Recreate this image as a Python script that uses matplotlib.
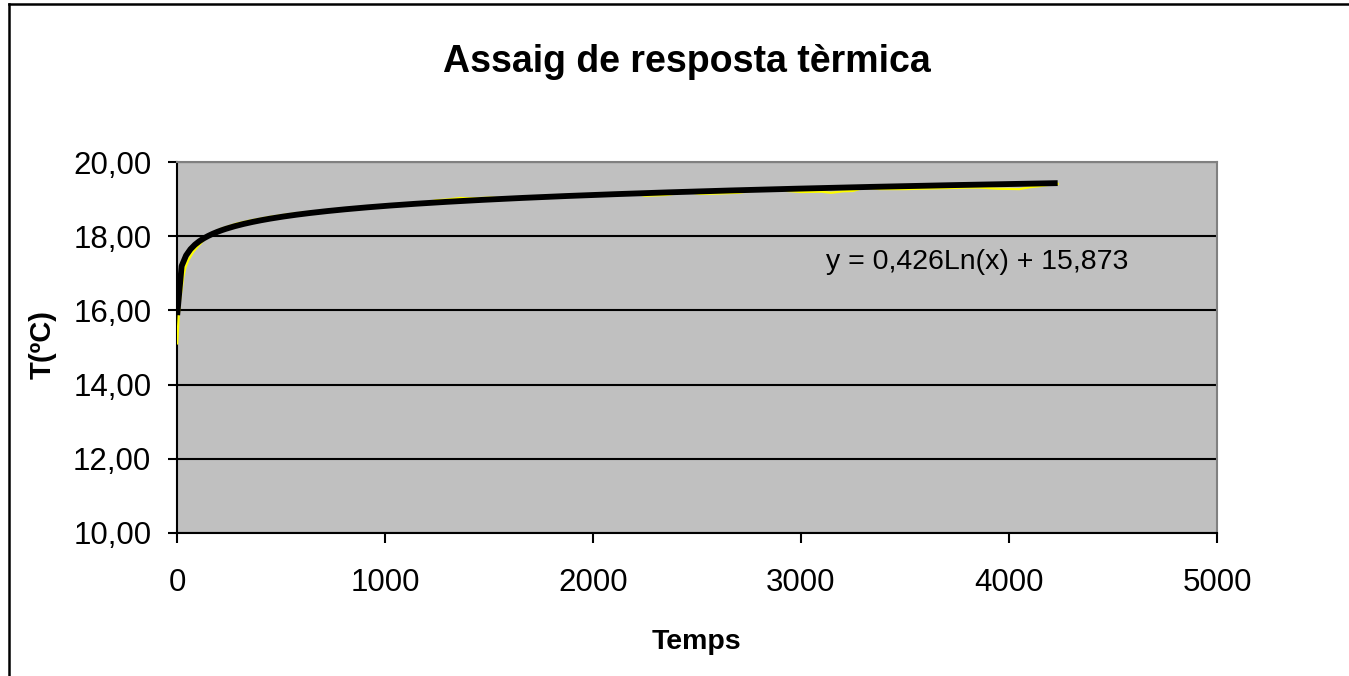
import numpy as np
import matplotlib
matplotlib.use("Agg")
import matplotlib.pyplot as plt
from matplotlib import font_manager
from matplotlib.lines import Line2D
from matplotlib.ticker import FuncFormatter

# mesures (temps, temperatura)
temps = [1, 8, 15, 22, 30, 40, 54, 78, 100, 126, 150, 207, 287, 350, 447, 520,
         607, 700, 768, 860, 960, 1060, 1168, 1250, 1300, 1360, 1420, 1500,
         1600, 1800, 2000, 2200, 2250, 2350, 2450, 2514, 2600, 2700, 2800,
         2900, 2933, 3000, 3100, 3145, 3200, 3250, 3300, 3380, 3500, 3650,
         3800, 3860, 3950, 4050, 4100, 4150, 4187, 4234]
temperatura = [15.11, 15.85, 16.30, 16.55, 16.90, 17.15, 17.35, 17.58, 17.72,
               17.88, 17.98, 18.19, 18.34, 18.42, 18.52, 18.58, 18.64, 18.69,
               18.72, 18.76, 18.81, 18.84, 18.88, 18.97, 18.99, 19.03, 19.02,
               19.04, 19.02, 19.07, 19.11, 19.15, 19.09, 19.11, 19.19, 19.14,
               19.15, 19.17, 19.25, 19.27, 19.22, 19.19, 19.20, 19.17, 19.21,
               19.22, 19.30, 19.27, 19.27, 19.29, 19.31, 19.31, 19.28, 19.27,
               19.32, 19.35, 19.38, 19.41]

# linia de tendència logarítmica (coeficients del gràfic)
tend_a = 0.426
tend_b = 15.873

y_ticks = [10, 12, 14, 16, 18, 20]
x_ticks = [0, 1000, 2000, 3000, 4000, 5000]

# font estreta si hi és, si no la normal amb mides de compromís
noms = {f.name for f in font_manager.fontManager.ttflist}
if 'Liberation Sans Narrow' in noms:
    plt.rcParams['font.family'] = ['Liberation Sans Narrow', 'DejaVu Sans']
    mides = dict(tick=25, eq=23, title=30, xlab=23, ylab=23)
else:
    plt.rcParams['font.family'] = ['Liberation Sans', 'DejaVu Sans']
    mides = dict(tick=22.5, eq=20.5, title=27, xlab=20.5, ylab=21)

W, H = 1349, 676
fig = plt.figure(figsize=(W / 100, H / 100), dpi=100)
fig.patch.set_facecolor('white')

ax = fig.add_axes([177 / W, 1 - 533 / H, 1040 / W, 371 / H])
ax.set_facecolor('#C0C0C0')

t = np.array(temps, dtype=float)
T = np.array(temperatura)
ax.plot(t, T, color='#FFFF00', lw=1.6, zorder=3)

xt = np.linspace(t[0], t[-1], 200)
ax.plot(xt, tend_a * np.log(xt) + tend_b, color='black', lw=4.2, zorder=4,
        solid_capstyle='butt')

ax.set_xlim(0, 5000)
ax.set_ylim(10, 20)
ax.set_xticks(x_ticks)
ax.set_yticks(y_ticks)
ax.yaxis.set_major_formatter(FuncFormatter(lambda v, p: f"{v:.2f}".replace('.', ',')))
ax.yaxis.grid(True, color='black', lw=1.5)
ax.set_axisbelow(True)

for s in ['left', 'bottom']:
    ax.spines[s].set_color('black')
    ax.spines[s].set_linewidth(1.5)
for s in ['top', 'right']:
    ax.spines[s].set_color('#808080')
    ax.spines[s].set_linewidth(1.5)

ax.tick_params(axis='y', direction='out', length=6.5, width=1.5, pad=12, labelsize=mides['tick'])
ax.tick_params(axis='x', direction='out', length=7, width=1.5, pad=18, labelsize=mides['tick'])

ax.text(3120, 17.11, "y = 0,426Ln(x) + 15,873", fontsize=mides['eq'], ha='left',
        va='baseline', zorder=5)

fig.text(687 / W, 1 - 71.7 / H, "Assaig de resposta tèrmica", fontsize=mides['title'],
         fontweight='bold', ha='center', va='baseline')
fig.text(696 / W, 1 - 649 / H, "Temps", fontsize=mides['xlab'], fontweight='bold',
         ha='center', va='baseline')
fig.text(43 / W, 1 - 344 / H, "T(ºC)", fontsize=mides['ylab'], fontweight='bold',
         rotation=90, ha='center', va='center')

# marc del gràfic
fig.add_artist(Line2D([9 / W, 9 / W], [0, 1 - 3.5 / H], color='black', lw=1.8))
fig.add_artist(Line2D([9 / W, 1], [1 - 3.5 / H, 1 - 3.5 / H], color='black', lw=1.8))

fig.savefig("out.png", dpi=100)
